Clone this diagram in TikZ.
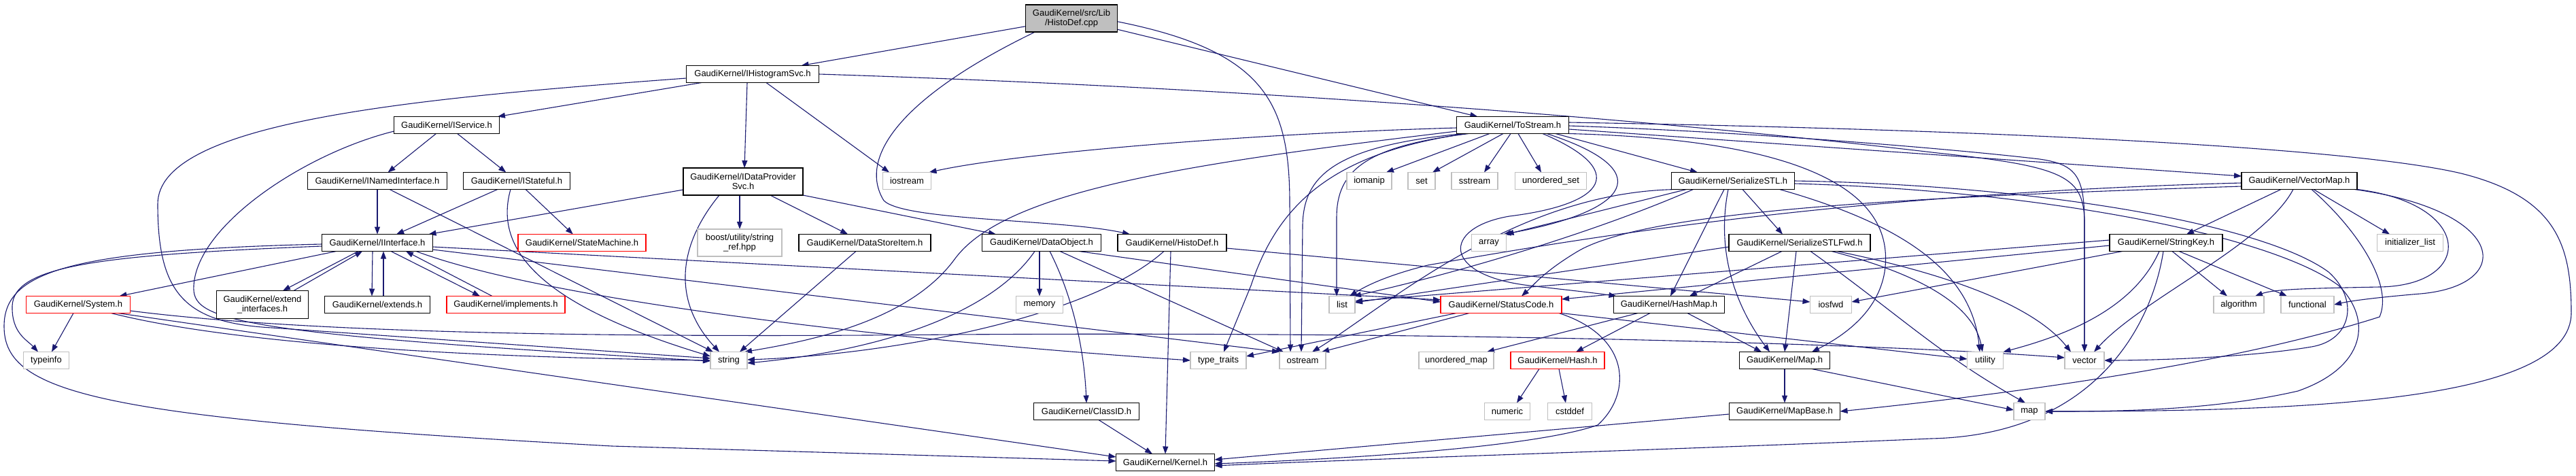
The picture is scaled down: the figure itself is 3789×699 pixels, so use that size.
\documentclass[tikz,border=0pt]{standalone}
\usepackage{fontspec}
\setmainfont{Liberation Sans}
\usetikzlibrary{arrows.meta}
\definecolor{edgeblue}{HTML}{191970}
\definecolor{sysgray}{HTML}{BFBFBF}
\pgfdeclarelayer{bg}
\pgfsetlayers{bg,main}
\begin{document}
\begin{tikzpicture}[x=1pt,y=-1pt,
  box/.style={draw=black,fill=white,line width=1.1pt,font=\fontsize{13}{14}\selectfont,align=center,minimum height=25pt,inner sep=0pt,outer sep=0pt},
  redbox/.style={box,draw=red},
  sysbox/.style={box,draw=sysgray},
  rootbox/.style={box,fill=sysgray},
  dep/.style={draw=edgeblue,line width=1.1pt,-{Triangle[length=11pt,width=8pt]}}]
\useasboundingbox (0,0) rectangle (3789,699);
% nodes
\node[rootbox,minimum width=135pt,minimum height=40pt] (root) at (1576,27) {GaudiKernel/src/Lib\\/HistoDef.cpp};
\node[box,minimum width=195pt] (ihs) at (1107,109) {GaudiKernel/IHistogramSvc.h};
\node[box,minimum width=155pt] (isv) at (657,184) {GaudiKernel/IService.h};
\node[box,minimum width=165pt] (ts) at (2225,184) {GaudiKernel/ToStream.h};
\node[box,minimum width=205pt] (ini) at (555,266) {GaudiKernel/INamedInterface.h};
\node[box,minimum width=157pt] (ist) at (760,266) {GaudiKernel/IStateful.h};
\node[box,minimum width=163pt] (ii) at (555,357) {GaudiKernel/IInterface.h};
\node[redbox,minimum width=188pt] (sm) at (856,357) {GaudiKernel/StateMachine.h};
\node[redbox,minimum width=153pt] (sys) at (115,448) {GaudiKernel/System.h};
\node[box,minimum width=135pt,minimum height=41pt] (exi) at (386,448) {GaudiKernel/extend\\\_interfaces.h};
\node[box,minimum width=155pt] (exs) at (555,448) {GaudiKernel/extends.h};
\node[redbox,minimum width=174pt] (imp) at (744,448) {GaudiKernel/implements.h};
\node[sysbox,minimum width=67pt] (tyi) at (68,530) {typeinfo};
\node[box,minimum width=176pt,minimum height=40pt] (idp) at (1093,267) {GaudiKernel/IDataProvider\\Svc.h};
\node[sysbox,minimum width=71pt] (ios) at (1334,266) {iostream};
\node[sysbox,minimum width=124pt,minimum height=40pt] (bst) at (1088,357) {boost/utility/string\\\_ref.hpp};
\node[box,minimum width=194pt] (dsi) at (1272,357) {GaudiKernel/DataStoreItem.h};
\node[box,minimum width=175pt] (dob) at (1532,357) {GaudiKernel/DataObject.h};
\node[box,minimum width=160pt] (hd) at (1724,357) {GaudiKernel/HistoDef.h};
\node[sysbox,minimum width=69pt] (mem) at (1529,448) {memory};
\node[sysbox,minimum width=54pt] (str) at (1072,530) {string};
\node[sysbox,minimum width=82pt] (tt) at (1792,530) {type\_traits};
\node[sysbox,minimum width=68pt] (ost) at (1916,530) {ostream};
\node[box,minimum width=155pt] (cid) at (1598,605) {GaudiKernel/ClassID.h};
\node[box,minimum width=145pt] (ker) at (1714,680) {GaudiKernel/Kernel.h};
\node[sysbox,minimum width=66pt] (iom) at (2014,266) {iomanip};
\node[sysbox,minimum width=40pt] (stset) at (2091,266) {set};
\node[sysbox,minimum width=68pt] (sst) at (2169,266) {sstream};
\node[sysbox,minimum width=105pt] (uset) at (2281,266) {unordered\_set};
\node[box,minimum width=181pt] (sstl) at (2549,266) {GaudiKernel/SerializeSTL.h};
\node[sysbox,minimum width=51pt] (arr) at (2190,357) {array};
\node[box,minimum width=208pt] (ssf) at (2647,357) {GaudiKernel/SerializeSTLFwd.h};
\node[sysbox,minimum width=38pt] (lst) at (1974,448) {list};
\node[redbox,minimum width=178pt] (sc) at (2208,448) {GaudiKernel/StatusCode.h};
\node[box,minimum width=163pt] (hm) at (2455,448) {GaudiKernel/HashMap.h};
\node[sysbox,minimum width=61pt] (iof) at (2693,448) {iosfwd};
\node[sysbox,minimum width=110pt] (umap) at (2142,530) {unordered\_map};
\node[redbox,minimum width=138pt] (hsh) at (2291,530) {GaudiKernel/Hash.h};
\node[box,minimum width=133pt] (gmap) at (2625,530) {GaudiKernel/Map.h};
\node[sysbox,minimum width=67pt] (num) at (2217,605) {numeric};
\node[sysbox,minimum width=65pt] (csd) at (2309,605) {cstddef};
\node[box,minimum width=163pt] (mb) at (2625,605) {GaudiKernel/MapBase.h};
\node[box,minimum width=170pt] (vm) at (3382,266) {GaudiKernel/VectorMap.h};
\node[box,minimum width=166pt] (sk) at (3186,357) {GaudiKernel/StringKey.h};
\node[sysbox,minimum width=97pt] (inl) at (3545,357) {initializer\_list};
\node[sysbox,minimum width=74pt] (alg) at (3293,448) {algorithm};
\node[sysbox,minimum width=78pt] (fun) at (3394,448) {functional};
\node[sysbox,minimum width=53pt] (uti) at (2920,530) {utility};
\node[sysbox,minimum width=58pt] (vec) at (3066,530) {vector};
\node[sysbox,minimum width=46pt] (stdmap) at (2985,605) {map};
\begin{pgfonlayer}{bg}
\fill[white] (0,0) rectangle (3789,699);
% root
\draw[dep] (root) -- (ihs);
\draw[dep] (root) -- (ts);
\draw[dep] ([xshift=14pt]root.south west) .. controls (1330,140) and (1260,230) .. (1300,295) .. controls (1330,325) and (1560,322) .. ([xshift=18pt]hd.north west);
\draw[dep] (root.-4) .. controls (1860,75) and (1897,150) .. (1897,300) -- ([xshift=-18pt]ost.north);
% IHistogramSvc
\draw[dep] (ihs) -- (isv);
\draw[dep] ([xshift=-8pt]ihs.south) -- ([xshift=2pt]idp.north);
\draw[dep] ([xshift=20pt]ihs.south) -- ([xshift=-26pt]ios.north);
\draw[dep] ([yshift=-6pt]ihs.west) .. controls (600,145) and (232,180) .. (232,300) .. controls (232,430) and (270,475) .. (400,482) -- ([yshift=3pt]str.west);
\draw[dep] (ihs.east) .. controls (1700,125) and (2300,160) .. (2850,225) .. controls (3040,245) and (3066,260) .. (3066,330) -- (vec.north);
% IService
\draw[dep] (isv) -- (ini);
\draw[dep] (isv) -- (ist);
\draw[dep] ([yshift=-9pt]isv.west) .. controls (450,225) and (290,330) .. (285,420) .. controls (282,470) and (330,490) .. ([yshift=-1pt]str.west);
% INamedInterface, IStateful
\draw[dep] (ini) -- (ii);
\draw[dep] ([xshift=18pt]ini.south) -- ([xshift=4pt]str.north west);
\draw[dep] (ist) -- (ii);
\draw[dep] (ist) -- (sm);
\draw[dep] ([xshift=-9pt]ist.south) .. controls (725,370) and (800,450) .. ([yshift=6pt]str.west);
% IInterface
\draw[dep] (ii) -- (sys);
\draw[dep] ([xshift=-28pt]ii.south) -- ([xshift=30pt]exi.north);
\draw[dep] ([xshift=46pt]exi.north) -- ([xshift=-22pt]ii.south);
\draw[dep] ([xshift=-7pt]ii.south) -- ([xshift=-8pt]exs.north);
\draw[dep] ([xshift=9pt]exs.north) -- ([xshift=9pt]ii.south);
\draw[dep] ([xshift=20pt]ii.south) -- ([xshift=-38pt]imp.north);
\draw[dep] ([xshift=-20pt]imp.north) -- ([xshift=42pt]ii.south);
\draw[dep] ([yshift=-5pt]ii.west) .. controls (150,375) and (20,390) .. (18,450) .. controls (17,490) and (40,500) .. ([xshift=-12pt]tyi.north);
\draw[dep] ([yshift=-2pt]ii.west) .. controls (100,368) and (6,400) .. (6,480) .. controls (6,580) and (150,615) .. (900,656) -- ([yshift=2pt]ker.west);
\draw[dep] ([yshift=-6pt]ii.east) -- ([yshift=7pt]sc.west);
\draw[dep] ([yshift=-10pt]ii.east) -- (ost.north west);
\draw[dep] ([xshift=57pt]ii.south) .. controls (800,440) and (1300,500) .. (tt.west);
% System
\draw[dep] ([xshift=-7pt]sys.south) -- ([xshift=8pt]tyi.north);
\draw[dep] ([xshift=-18pt]sys.south east) -- ([yshift=8pt]ker.west);
\draw[dep] ([xshift=-28pt]sys.south east) .. controls (380,515) and (800,527) .. (str.west);
\draw[dep] ([yshift=-9pt]sys.east) .. controls (450,490) and (900,497) .. (1400,492) .. controls (2200,487) and (2800,508) .. ([yshift=4pt]vec.west);
% IDataProviderSvc
\draw[dep] ([yshift=-12pt]idp.west) -- ([xshift=-6pt]ii.north east);
\draw[dep] ([xshift=-5pt]idp.south) -- (bst.north);
\draw[dep] (idp) -- (dsi);
\draw[dep] (idp.south east) -- ([xshift=-67pt]dob.north);
\draw[dep] ([xshift=-35pt]idp.south) .. controls (990,370) and (995,450) .. ([xshift=-14pt]str.north);
\draw[dep] ([xshift=-13pt]dsi.south) -- ([xshift=16pt]str.north);
% DataObject
\draw[dep] ([xshift=-3pt]dob.south) -- (mem);
\draw[dep] ([xshift=-10pt]dob.south) .. controls (1460,460) and (1300,515) .. ([yshift=-4pt]str.east);
\draw[dep] ([xshift=12pt]dob.south) .. controls (1580,440) and (1595,520) .. (cid.north);
\draw[dep] ([xshift=27pt]dob.south) -- ([xshift=-28pt]ost.north);
\draw[dep] ([xshift=55pt]dob.south) -- ([yshift=4pt]sc.west);
% ClassID, HistoDef
\draw[dep] ([xshift=18pt]cid.south) -- ([xshift=-19pt]ker.north);
\draw[dep] ([xshift=-2pt]hd.south) -- (ker.north);
\draw[dep] ([xshift=-12pt]hd.south) .. controls (1600,470) and (1300,522) .. ([yshift=1pt]str.east);
\draw[dep] ([yshift=-8pt]hd.east) -- ([yshift=4pt]iof.west);
% ToStream
\draw[dep] ([yshift=-4pt]ts.west) .. controls (1800,198) and (1480,228) .. ([xshift=-3pt]ios.north east);
\draw[dep] ([yshift=-9pt]ts.west) .. controls (1750,240) and (1480,280) .. (1405,380) .. controls (1340,470) and (1200,500) .. ([xshift=-4pt]str.north east);
\draw[dep] ([xshift=14pt]ts.south west) .. controls (1960,225) and (1880,300) .. (1840,420) -- ([xshift=8pt]tt.north);
\draw[dep] ([xshift=10pt]ts.south west) .. controls (1960,215) and (1918,260) .. (1916,330) -- ([xshift=-2pt]ost.north);
\draw[dep] ([xshift=18pt]ts.south west) .. controls (2010,215) and (1966,250) .. (1966,320) -- ([xshift=-8pt]lst.north);
\draw[dep] ([xshift=-34pt]ts.south) -- ([xshift=25pt]iom.north);
\draw[dep] ([xshift=-14pt]ts.south) -- ([xshift=16pt]stset.north);
\draw[dep] ([xshift=-3pt]ts.south) -- ([xshift=14pt]sst.north);
\draw[dep] ([xshift=8pt]ts.south) -- ([xshift=-14pt]uset.north);
\draw[dep] ([xshift=44pt]ts.south) .. controls (2395,250) and (2365,300) .. (2220,318) .. controls (2120,335) and (2120,405) .. (2250,420) .. controls (2300,426) and (2340,430) .. ([xshift=4pt]hm.north west);
\draw[dep] ([xshift=50pt]ts.south) .. controls (2440,250) and (2400,310) .. ([xshift=-4pt]arr.north east);
\draw[dep] ([xshift=63pt]ts.south) -- ([xshift=-52pt]sstl.north);
\draw[dep] (ts.south east) .. controls (2650,205) and (2790,280) .. (2772,400) .. controls (2762,460) and (2710,495) .. ([xshift=40pt]gmap.north);
\draw[dep] ([yshift=-6pt]ts.east) -- ([yshift=7pt]vm.west);
\draw[dep] ([yshift=-1pt]ts.east) .. controls (2600,195) and (2900,222) .. (3000,234) .. controls (3055,242) and (3066,260) .. (3066,330) -- (vec.north);
\draw[dep] ([yshift=4pt]ts.east) .. controls (2900,190) and (3450,215) .. (3620,255) .. controls (3760,290) and (3782,360) .. (3782,460) .. controls (3782,590) and (3400,605) .. (stdmap.east);
% VectorMap
\draw[dep] ([xshift=-27pt]vm.south) -- ([xshift=30pt]sk.north);
\draw[dep] ([xshift=21pt]vm.south) -- ([xshift=-30pt]inl.north);
\draw[dep] (vm.south east) .. controls (3640,300) and (3640,420) .. (3500,422) .. controls (3400,424) and (3345,425) .. ([xshift=24pt]alg.north);
\draw[dep] ([xshift=-4pt]vm.south east) .. controls (3690,310) and (3700,420) .. (3560,432) .. controls (3500,437) and (3460,442) .. (fun.east);
\draw[dep] ([xshift=-9pt]vm.south) .. controls (3330,360) and (3150,440) .. ([xshift=14pt]vec.north);
\draw[dep] ([xshift=18pt]vm.south) .. controls (3470,340) and (3520,420) .. (3500,466) .. controls (3300,530) and (3000,575) .. (mb.east);
\draw[dep] ([yshift=-8pt]vm.west) .. controls (2800,290) and (2420,310) .. (2320,370) .. controls (2270,400) and (2255,420) .. ([xshift=30pt]sc.north);
\draw[dep] ([yshift=-3pt]vm.west) .. controls (2700,285) and (2300,355) .. (2100,390) .. controls (2040,405) and (2010,420) .. ([xshift=-8pt]lst.north east);
% SerializeSTL
\draw[dep] ([xshift=22pt]sstl.south west) -- (arr.north east);
\draw[dep] ([xshift=32pt]sstl.south west) .. controls (2350,340) and (2150,400) .. ([xshift=-2pt]lst.north east);
\draw[dep] ([xshift=-13pt]sstl.south) -- ([xshift=2pt]hm.north);
\draw[dep] ([xshift=-7pt]sstl.south) .. controls (2522,380) and (2560,460) .. ([xshift=-22pt]gmap.north);
\draw[dep] ([xshift=14pt]sstl.south) -- ([xshift=-25pt]ssf.north);
\draw[dep] ([xshift=12pt]sstl.south west) .. controls (2230,280) and (2040,450) .. ([xshift=14pt]ost.north);
\draw[dep] ([xshift=-22pt]sstl.south east) .. controls (2800,330) and (2900,400) .. ([xshift=-8pt]uti.north);
\draw[dep] (sstl.east) .. controls (3000,272) and (3330,330) .. (3425,400) .. controls (3470,440) and (3460,500) .. (3400,510) .. controls (3300,527) and (3150,530) .. (vec.east);
\draw[dep] ([yshift=-4pt]sstl.east) .. controls (3000,280) and (3340,345) .. (3440,420) .. controls (3490,470) and (3480,540) .. (3380,575) .. controls (3250,605) and (3100,605) .. (stdmap.east);
% SerializeSTLFwd
\draw[dep] ([yshift=-6pt]ssf.west) -- ([yshift=3pt]lst.east);
\draw[dep] ([xshift=-26pt]ssf.south) -- ([xshift=30pt]hm.north);
\draw[dep] ([xshift=-5pt]ssf.south) -- (gmap.north);
\draw[dep] ([xshift=16pt]ssf.south) .. controls (2790,460) and (2850,520) .. ([xshift=-6pt]stdmap.north);
\draw[dep] ([xshift=47pt]ssf.south) .. controls (2850,410) and (2905,460) .. ([xshift=-4pt]uti.north);
\draw[dep] ([xshift=55pt]ssf.south) .. controls (2900,410) and (3000,460) .. ([xshift=-20pt]vec.north);
% StatusCode
\draw[dep] ([xshift=-47pt]sc.south) -- ([xshift=28pt]ost.north);
\draw[dep] ([xshift=-66pt]sc.south) -- ([yshift=6pt]tt.east);
\draw[dep] (sc.south east) -- ([yshift=2pt]uti.west);
\draw[dep] ([xshift=-4pt]sc.south east) .. controls (2400,495) and (2400,580) .. (2350,625) .. controls (2250,660) and (1950,676) .. ([yshift=-2pt]ker.east);
% HashMap, Hash, Map, MapBase
\draw[dep] ([xshift=27pt]hm.south) -- ([xshift=-34pt]gmap.north);
\draw[dep] ([xshift=-28pt]hm.south) -- ([xshift=27pt]hsh.north);
\draw[dep] ([xshift=-46pt]hm.south) -- ([xshift=45pt]umap.north);
\draw[dep] ([xshift=-27pt]hsh.south) -- ([xshift=14pt]num.north);
\draw[dep] ([xshift=2pt]hsh.south) -- ([xshift=-6pt]csd.north);
\draw[dep] (gmap) -- (mb);
\draw[dep] ([xshift=40pt]gmap.south) -- ([yshift=2pt]stdmap.west);
\draw[dep] ([yshift=-4pt]mb.west) -- ([yshift=4pt]ker.east);
% StringKey
\draw[dep] ([xshift=9pt]sk.south) -- ([xshift=-17pt]alg.north);
\draw[dep] ([xshift=19pt]sk.south) -- ([xshift=-30pt]fun.north);
\draw[dep] ([xshift=-10pt]sk.south) .. controls (3140,450) and (3050,490) .. (uti.north east);
\draw[dep] ([xshift=-4pt]sk.south) .. controls (3165,480) and (3080,640) .. (2840,645) .. controls (2500,660) and (2000,675) .. ([yshift=-5pt]ker.east);
\draw[dep] ([yshift=-4pt]sk.west) -- ([yshift=8pt]sc.east);
\draw[dep] ([xshift=19pt]sk.south west) -- ([yshift=4pt]iof.east);
\draw[dep] ([yshift=4pt]sk.west) -- ([yshift=5pt]lst.east);
\end{pgfonlayer}
\end{tikzpicture}
\end{document}
